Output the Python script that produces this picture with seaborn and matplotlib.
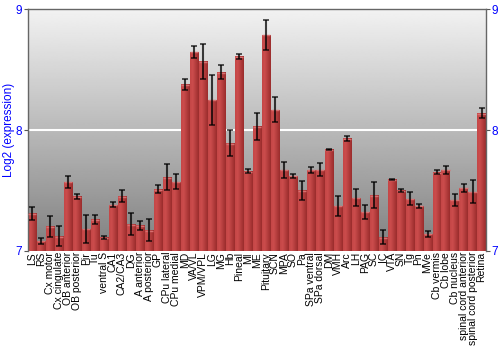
import matplotlib
matplotlib.use("Agg")
import matplotlib.pyplot as plt
import seaborn as sns
import numpy as np
import pandas as pd
from matplotlib.colors import LinearSegmentedColormap

categories = ["LS", "RS", "Cx motor", "Cx cingulate", "OB anterior", "OB posterior", "Pir", "Tu",
              "ventral S", "CA1", "CA2/CA3", "DG", "A anterior", "A posterior", "GP", "CPu lateral",
              "CPu medial", "MD", "VA/VL", "VPM/VPL", "LG", "MG", "Hb", "Pineal", "MI", "ME",
              "Pituitary", "SCN", "MPA", "SO", "Pa", "SPa ventral", "SPa dorsal", "DM", "VMH", "Arc",
              "LH", "PAG", "SC", "IC", "VTA", "SN", "Tg", "Pn", "MVe", "Cb vermis", "Cb lobe",
              "Cb nucleus", "spinal cord anterior", "spinal cord posterior", "Retina"]
values = [7.31, 7.08, 7.20, 7.12, 7.57, 7.45, 7.18, 7.26, 7.11, 7.38, 7.45, 7.22, 7.21, 7.17,
          7.51, 7.61, 7.57, 8.38, 8.65, 8.57, 8.25, 8.48, 7.89, 8.61, 7.66, 8.03, 8.79, 8.17,
          7.67, 7.62, 7.50, 7.67, 7.67, 7.84, 7.37, 7.93, 7.44, 7.32, 7.46, 7.11, 7.59, 7.50,
          7.43, 7.37, 7.14, 7.65, 7.67, 7.42, 7.52, 7.49, 8.14]
errors = [0.055, 0.025, 0.09, 0.083, 0.05, 0.018, 0.115, 0.037, 0.011, 0.022, 0.05, 0.09, 0.039,
          0.09, 0.03, 0.11, 0.062, 0.044, 0.05, 0.147, 0.21, 0.06, 0.108, 0.017, 0.014, 0.11,
          0.125, 0.10, 0.066, 0.017, 0.077, 0.024, 0.053, 0.006, 0.08, 0.017, 0.073, 0.055,
          0.108, 0.057, 0.006, 0.014, 0.054, 0.019, 0.025, 0.017, 0.035, 0.05, 0.036, 0.093, 0.041]
yticks = [7, 8, 9]
ylabel = "Log2 (expression)"

df = pd.DataFrame({"region": categories, "value": values})

sns.set_style("white")
plt.rcParams["font.family"] = ["Liberation Sans", "DejaVu Sans"]

fig = plt.figure(figsize=(5, 3.5), dpi=100)
ax = fig.add_axes([0.055, 0.284, 0.917, 0.689])

n = len(categories)
ax.set_xlim(-0.5, n - 0.5)
ax.set_ylim(7, 9)

# background gradient
bg = np.linspace(0.5, 0.95, 256).reshape(-1, 1)
ax.imshow(bg, extent=(-0.5, n - 0.5, 7, 9), origin="lower", aspect="auto",
          cmap="gray", vmin=0, vmax=1, zorder=0)
ax.axhline(8, color="white", lw=1.5, zorder=1)

sns.barplot(data=df, x="region", y="value", color="#b83a3a", width=0.9,
            errorbar=None, ax=ax, zorder=2, linewidth=0)

bar_cmap = LinearSegmentedColormap.from_list(
    "barg", [(0, "#c44646"), (0.3, "#cc4d4d"), (1, "#9a2c2c")])
grad = np.linspace(0, 1, 64).reshape(1, -1)
for p in list(ax.patches):
    x0, w, h = p.get_x(), p.get_width(), p.get_height()
    im = ax.imshow(grad, extent=(x0, x0 + w, 7, h), origin="lower", aspect="auto",
                   cmap=bar_cmap, zorder=2.5)
    im.set_clip_path(p)
    ax.plot([x0, x0 + w], [h - 0.004, h - 0.004], color="#d87070", lw=1, zorder=2.6,
            solid_capstyle="butt")

ax.errorbar(np.arange(n), values, yerr=errors, fmt="none", ecolor="black", alpha=0.75,
            elinewidth=1.5, capsize=2.5, capthick=1.2, zorder=3)

ax.set_xlim(-0.5, n - 0.5)
ax.set_ylim(7, 9)
ax.set_xlabel("")
ax.set_ylabel(ylabel, color="blue", fontsize=8.5)
ax.yaxis.set_label_coords(-0.028, 0.5)
ax.set_yticks(yticks)
ax.set_yticklabels([str(t) for t in yticks])
ax.tick_params(axis="y", colors="#555555", labelcolor="blue", labelsize=8.5, length=3,
               direction="out", left=True, right=True, labelright=True, pad=1)
ax.tick_params(axis="x", length=0, labelsize=7.5, pad=1, labelcolor="black")
plt.setp(ax.get_xticklabels(), rotation=90, ha="center", va="top")

for s in ["left", "right", "top"]:
    ax.spines[s].set_color("#666666")
    ax.spines[s].set_linewidth(1)
ax.spines["bottom"].set_visible(False)

fig.savefig("out.png", dpi=100)
